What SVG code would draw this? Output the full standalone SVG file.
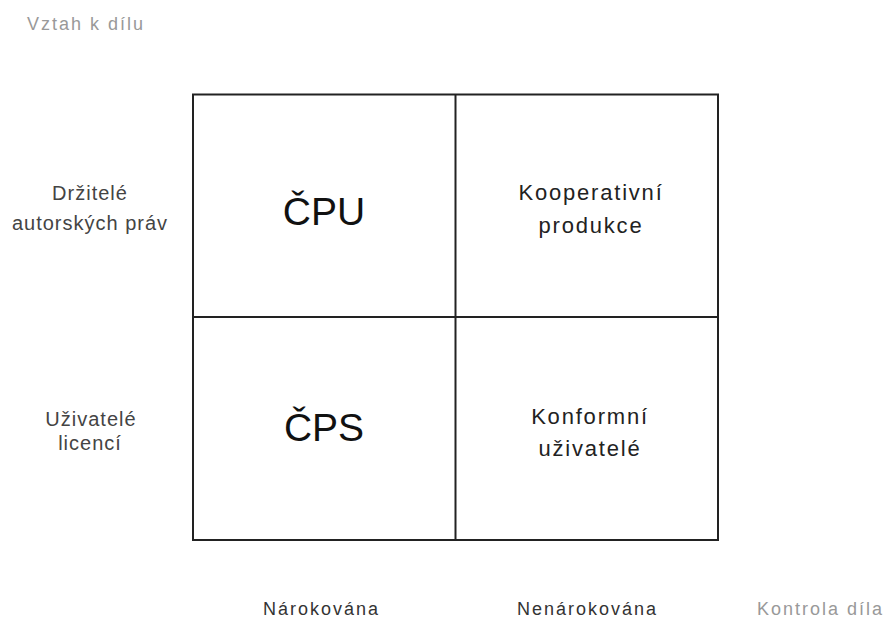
<svg xmlns="http://www.w3.org/2000/svg" width="884" height="620" viewBox="0 0 884 620">
  <style>
    text { font-family: "Liberation Sans", Arial, sans-serif; }
    .axis { font-size: 18px; letter-spacing: 2px; fill: #999; }
    .row { font-size: 20px; letter-spacing: 1px; fill: #444; text-anchor: middle; }
    .col { font-size: 18px; letter-spacing: 2px; fill: #333; }
    .big { font-size: 39px; fill: #111; text-anchor: middle; }
    .cell { font-size: 22px; letter-spacing: 1.8px; fill: #222; text-anchor: middle; }
    .grid { fill: none; stroke: #222; stroke-width: 2; }
  </style>
  <rect width="884" height="620" fill="#fff"/>

  <text class="axis" x="27" y="30">Vztah k dílu</text>
  <text class="axis" x="757" y="615">Kontrola díla</text>

  <g id="grid">
    <rect class="grid" x="193" y="94.5" width="525" height="445.5"/>
    <line class="grid" x1="455.5" y1="94.5" x2="455.5" y2="540"/>
    <line class="grid" x1="193" y1="317" x2="718" y2="317"/>
  </g>

  <g id="row-drzitele">
    <text class="row" x="90" y="200">Držitelé</text>
    <text class="row" x="90" y="230">autorských práv</text>
  </g>
  <g id="row-uzivatele">
    <text class="row" x="91" y="426">Uživatelé</text>
    <text class="row" x="90" y="450">licencí</text>
  </g>

  <g id="col-narokovana">
    <text class="col" x="263" y="615">Nárokována</text>
  </g>
  <g id="col-nenarokovana">
    <text class="col" x="517" y="615">Nenárokována</text>
  </g>

  <g id="cell-cpu">
    <text class="big" x="324" y="225">ČPU</text>
  </g>
  <g id="cell-kooperativni">
    <text class="cell" x="591" y="200">Kooperativní</text>
    <text class="cell" x="591" y="233">produkce</text>
  </g>
  <g id="cell-cps">
    <text class="big" x="324" y="441">ČPS</text>
  </g>
  <g id="cell-konformni">
    <text class="cell" x="590" y="424">Konformní</text>
    <text class="cell" x="590" y="456">uživatelé</text>
  </g>
</svg>
